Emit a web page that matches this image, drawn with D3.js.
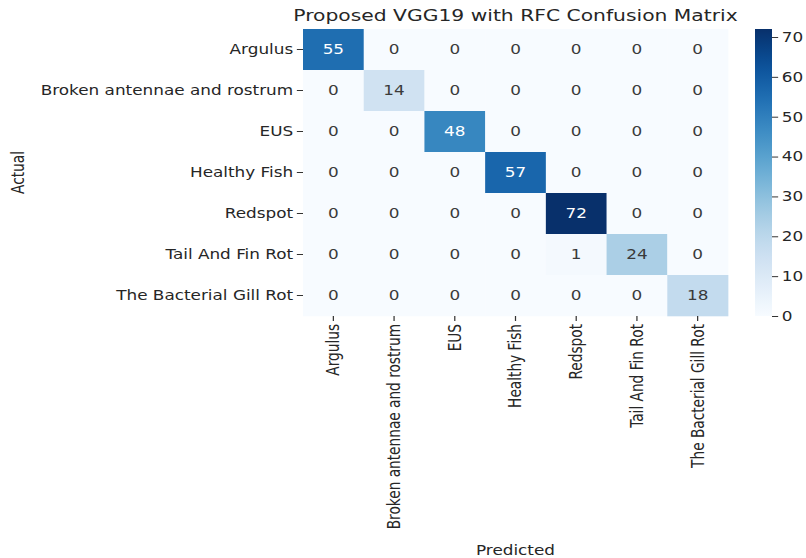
<!DOCTYPE html>
<html>
<head>
<meta charset="utf-8">
<script src="https://cdn.jsdelivr.net/npm/d3@7"></script>
<style>
body { margin: 0; background: #fff; }
text { font-family: "DejaVu Sans", sans-serif; fill: #262626; }
</style>
</head>
<body>
<div id="chart"></div>
<script>

// data
var classes = ["Argulus", "Broken antennae and rostrum", "EUS", "Healthy Fish",
               "Redspot", "Tail And Fin Rot", "The Bacterial Gill Rot"];
var matrix = [
  [55, 0, 0, 0, 0, 0, 0],
  [0, 14, 0, 0, 0, 0, 0],
  [0, 0, 48, 0, 0, 0, 0],
  [0, 0, 0, 57, 0, 0, 0],
  [0, 0, 0, 0, 72, 0, 0],
  [0, 0, 0, 0, 1, 24, 0],
  [0, 0, 0, 0, 0, 0, 18]
];
var cbarTicks = [0, 10, 20, 30, 40, 50, 60, 70];
var title = "Proposed VGG19 with RFC Confusion Matrix";

var W = 806, H = 558;
// the picture is stretched sideways, so draw in a squeezed frame
var SX = 1.23;
var fs = 13.7;

var svg = d3.select("#chart").append("svg")
  .attr("width", W)
  .attr("height", H);

var g = svg.append("g").attr("transform", "scale(" + SX + ",1)");

var hmLeft = 303 / SX, hmRight = 728 / SX, hmTop = 29, hmBottom = 316;

var vmax = d3.max(matrix, function(r) { return d3.max(r); });
var color = d3.scaleSequential(d3.interpolateBlues).domain([0, vmax]);

var x = d3.scaleBand().domain(classes).range([hmLeft, hmRight]);
var y = d3.scaleBand().domain(classes).range([hmTop, hmBottom]);

var cells = [];
matrix.forEach(function(row, i) {
  row.forEach(function(v, j) {
    cells.push({ actual: classes[i], pred: classes[j], value: v });
  });
});

g.selectAll(".cell")
  .data(cells)
  .enter().append("rect")
  .attr("class", "cell")
  .attr("x", function(d) { return x(d.pred); })
  .attr("y", function(d) { return y(d.actual); })
  .attr("width", x.bandwidth() + 0.3)
  .attr("height", y.bandwidth() + 0.3)
  .style("fill", function(d) { return color(d.value); });

g.selectAll(".annot")
  .data(cells)
  .enter().append("text")
  .attr("class", "annot")
  .attr("x", function(d) { return x(d.pred) + x.bandwidth() / 2; })
  .attr("y", function(d) { return y(d.actual) + y.bandwidth() / 2; })
  .attr("dy", "0.36em")
  .attr("text-anchor", "middle")
  .style("font-size", fs + "px")
  .style("fill", function(d) { return d.value > vmax * 0.55 ? "#ffffff" : "#3a3a3a"; })
  .text(function(d) { return d.value; });

// y axis
var yAxis = g.append("g")
  .attr("transform", "translate(" + hmLeft + ",0)")
  .call(d3.axisLeft(y).tickSize(5).tickPadding(3));
yAxis.select(".domain").remove();
yAxis.selectAll("line").style("stroke", "#333");
yAxis.selectAll("text")
  .style("font-size", fs + "px")
  .style("font-family", "DejaVu Sans")
  .style("fill", "#262626");

// x axis, labels turned
var xAxis = g.append("g")
  .attr("transform", "translate(0," + hmBottom + ")")
  .call(d3.axisBottom(x).tickSize(5).tickPadding(3));
xAxis.select(".domain").remove();
xAxis.selectAll("line").style("stroke", "#333");
xAxis.selectAll("text")
  .style("font-size", fs + "px")
  .style("font-family", "DejaVu Sans")
  .style("fill", "#262626")
  .attr("text-anchor", "end")
  .attr("transform", "rotate(-90)")
  .attr("x", -8)
  .attr("y", 0)
  .attr("dy", "0.35em");

// title and axis names
g.append("text")
  .attr("x", (hmLeft + hmRight) / 2)
  .attr("y", 21)
  .attr("text-anchor", "middle")
  .style("font-size", "16.5px")
  .text(title);

g.append("text")
  .attr("transform", "translate(" + (24 / SX) + "," + ((hmTop + hmBottom) / 2) + ") rotate(-90)")
  .attr("text-anchor", "middle")
  .style("font-size", fs + "px")
  .text("Actual");

g.append("text")
  .attr("x", (hmLeft + hmRight) / 2)
  .attr("y", 555)
  .attr("text-anchor", "middle")
  .style("font-size", fs + "px")
  .text("Predicted");

// colorbar
var cbLeft = 755 / SX, cbWidth = 17 / SX;
var cbScale = d3.scaleLinear().domain([0, vmax]).range([hmBottom, hmTop]);

var grad = svg.append("defs").append("linearGradient")
  .attr("id", "cbgrad")
  .attr("x1", 0).attr("y1", 1)
  .attr("x2", 0).attr("y2", 0);
grad.selectAll("stop")
  .data(d3.range(0, 1.0001, 0.05))
  .enter().append("stop")
  .attr("offset", function(d) { return d; })
  .attr("stop-color", function(d) { return color(d * vmax); });

g.append("rect")
  .attr("x", cbLeft)
  .attr("y", hmTop)
  .attr("width", cbWidth)
  .attr("height", hmBottom - hmTop)
  .style("fill", "url(#cbgrad)");

var cAxis = g.append("g")
  .attr("transform", "translate(" + (cbLeft + cbWidth) + ",0)")
  .call(d3.axisRight(cbScale).tickValues(cbarTicks).tickSize(5).tickPadding(3));
cAxis.select(".domain").remove();
cAxis.selectAll("line").style("stroke", "#333");
cAxis.selectAll("text")
  .style("font-size", fs + "px")
  .style("font-family", "DejaVu Sans")
  .style("fill", "#262626");

</script>
</body>
</html>
